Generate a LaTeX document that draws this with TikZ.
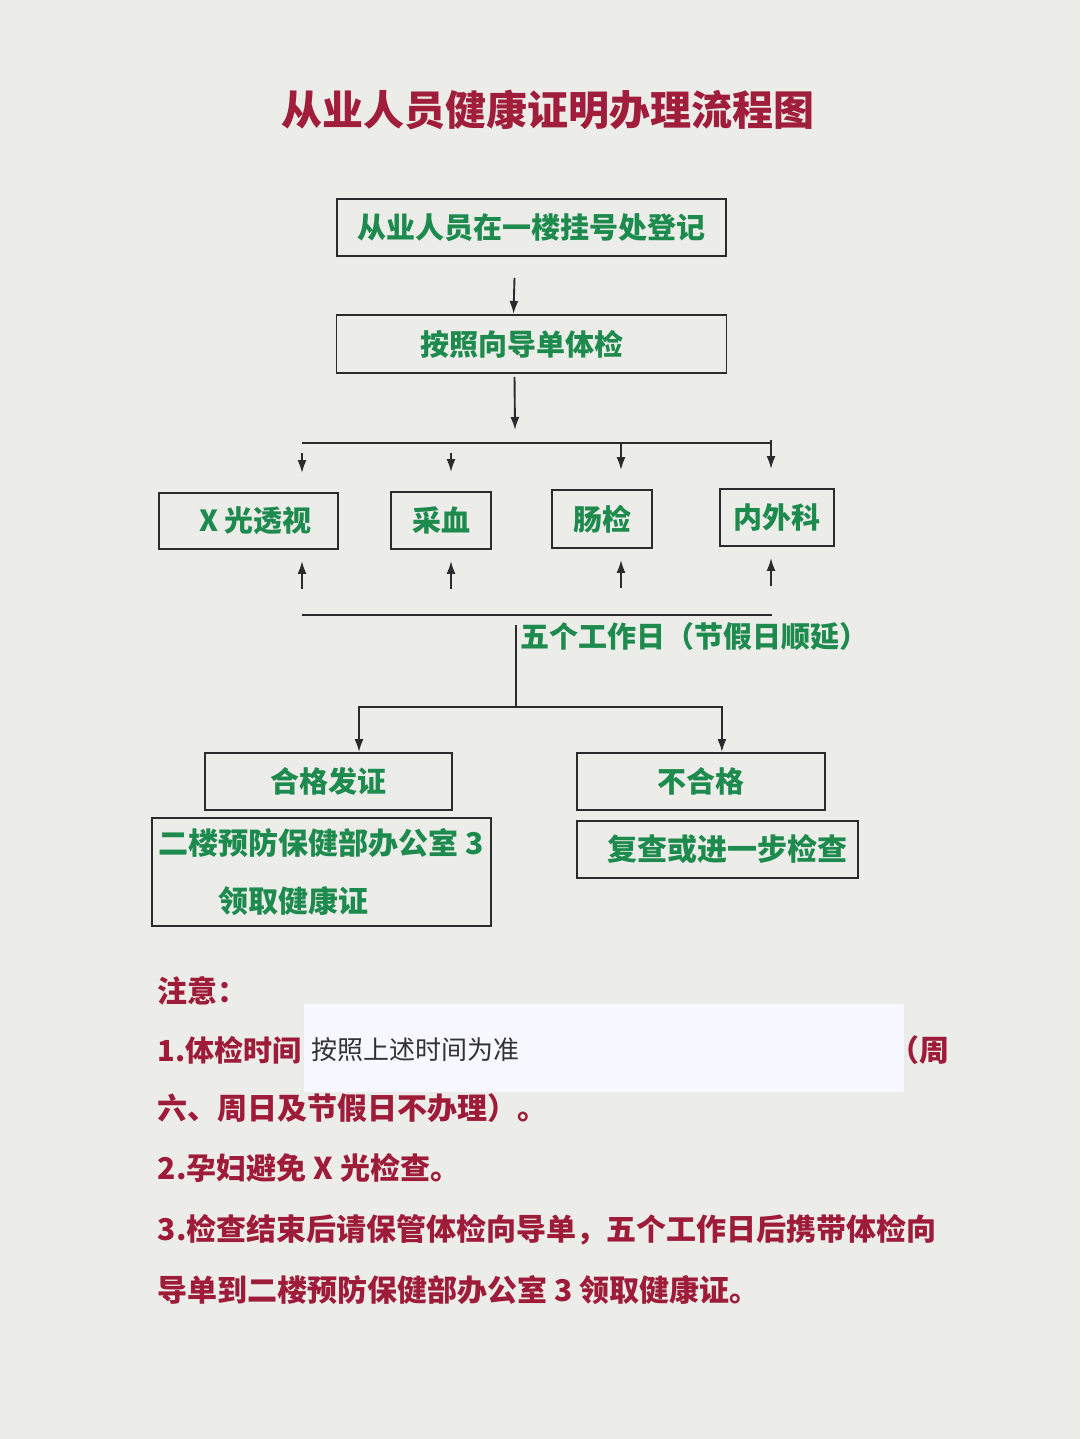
\documentclass[tikz,border=0pt]{standalone}
\usepackage{fontspec}
\newfontfamily\cjk{Noto Sans CJK SC}
\usetikzlibrary{arrows.meta,positioning,calc}
\definecolor{paperbg}{HTML}{ECECE9}
\definecolor{titlered}{HTML}{A01E3B}
\definecolor{notered}{HTML}{9E1C39}
\definecolor{hgreen}{HTML}{1D8A4E}
\definecolor{ink}{HTML}{2B2B2B}
\tikzset{
    >={Latex[length=13pt,width=9pt]},
    box/.style ={rectangle, draw=ink, inner sep=0pt, text=hgreen, font=\cjk\bfseries\fontsize{29}{34}\selectfont},
    note/.style ={anchor=west, inner sep=0pt, text=notered, font=\cjk\bfseries\fontsize{30}{36}\selectfont},
    slip/.style ={fill=white!97!blue, draw=black!8}
}
\begin{document}
\begin{tikzpicture}[x=1pt, y=-1pt, line width=1.9pt, draw=ink]
    \fill[paperbg] (0,0) rectangle (1080,1439);
    \useasboundingbox (0,0) rectangle (1080,1439);

    \node[text=titlered, font=\cjk\bfseries\fontsize{41}{48}\selectfont] (title) at (548,110) {从业人员健康证明办理流程图};

    \node[box, minimum width=389pt, minimum height=57pt] (reg) at (531.5,227.5) {从业人员在一楼挂号处登记};
    \node[box, minimum width=390pt, minimum height=58pt] (guide) [below=57pt of reg] {按照向导单体检\hspace*{20pt}};

    % four checks
    \node[box, minimum width=179pt, minimum height=56pt] (xray) at (248.5,521) {\hspace*{14pt}X 光透视};
    \node[box, minimum width=100pt, minimum height=57pt] (blood) at (441,520.5) {采血};
    \node[box, minimum width=100pt, minimum height=58pt] (stool) at (602,519) {肠检};
    \node[box, minimum width=114pt, minimum height=57pt] (med) at (777,517.5) {内外科};

    \node[text=hgreen, anchor=west, inner sep=0pt, font=\cjk\bfseries\fontsize{29}{34}\selectfont] (delay) at (520,636) {五个工作日（节假日顺延）};

    % results
    \node[box, minimum width=247pt, minimum height=57pt] (pass) at (328.5,781.5) {合格发证};
    \node[box, minimum width=248pt, minimum height=57pt] (fail) [right=123pt of pass] {不合格};
    \node[box, minimum width=339pt, minimum height=108pt, align=left, font=\cjk\bfseries\fontsize{30}{58}\selectfont] (collect) at (321.5,872) {二楼预防保健部办公室 3\\\hspace*{60pt}领取健康证};
    \node[box, minimum width=281pt, minimum height=57pt, below=9pt of fail.south west, anchor=north west, font=\cjk\bfseries\fontsize{30}{36}\selectfont] (recheck) {\hspace*{20pt}复查或进一步检查};

    \coordinate (split) at (515,430);
    \coordinate (fork) at (516,707);

    \draw[->] ([xshift=-17pt,yshift=-21pt]reg.south) -- ([xshift=-18pt]guide.north);
    \draw[->] ([xshift=-17pt,yshift=-3pt]guide.south) -- (split);
    \draw (302,443) -- (771,443);
    \foreach \n/\x/\s in {xray/302/453, blood/451/453, stool/621/443, med/771/440} {
        \draw[->] (\x,\s) -- ([yshift=19pt]\n.north -| \x,0);
        \draw[->] ([yshift=-39pt]\n.south -| \x,0) -- ([yshift=-11pt]\n.south -| \x,0);
    }
    \draw (302,615) -- (772,615);
    \draw (516,625) -- (fork);
    \draw[->] (fork) -| ([xshift=30.5pt]pass.north);
    \draw[->] (fork) -| ([xshift=21pt]fail.north);

    % notes
    \node[note] (n0) at (157,991) {注意：};
    \node[note, font=\cjk\bfseries\fontsize{29}{36}\selectfont] (n1) at (157,1050) {1.体检时间};
    \node[note, anchor=east] (n1b) at (950,1050) {（周};
    \draw[slip] (303,1003) rectangle (905,1093);
    \node[anchor=west, inner sep=0pt, text=black!80, font=\cjk\fontsize{26}{30}\selectfont] (slip) at (311,1050) {按照上述时间为准};
    \node[note] (n2) at (157,1108) {六、周日及节假日不办理）。};
    \node[note] (n3) at (157,1168) {2.孕妇避免 X 光检查。};
    \node[note] (n4) at (157,1230) {3.检查结束后请保管体检向导单，五个工作日后携带体检向};
    \node[note] (n5) at (157,1290) {导单到二楼预防保健部办公室 3 领取健康证。};
\end{tikzpicture}
\end{document}
